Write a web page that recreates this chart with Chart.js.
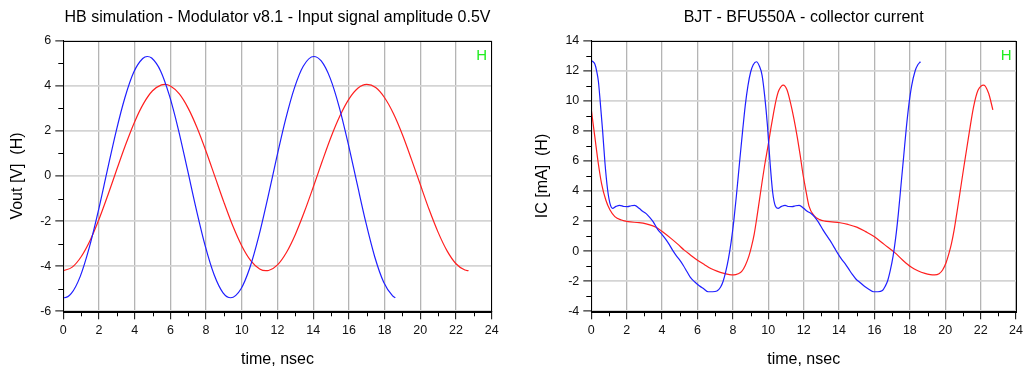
<!DOCTYPE html>
<html><head><meta charset="utf-8">
<script src="https://cdn.jsdelivr.net/npm/chart.js@4.4.1/dist/chart.umd.min.js"></script>
<style>
html,body{margin:0;padding:0;background:#fff;}
#wrap{position:relative;width:1027px;height:370px;overflow:hidden;}
#c1{position:absolute;left:0;top:0;}
#c2{position:absolute;left:513px;top:0;}
</style></head><body>
<div id="wrap"><canvas id="c1" width="513" height="370"></canvas><canvas id="c2" width="514" height="370"></canvas></div>
<script>
// ---- Left chart: Vout ----
const leftTitle = 'HB simulation - Modulator v8.1 - Input signal amplitude 0.5V';
const leftYTitle = 'Vout [V]  (H)';
const leftBlueT = [0,0.05,0.45,0.95,1.45,1.95,2.45,2.95,3.45,3.95,4.45,4.7,4.95,5.45,5.95,6.45,6.95,7.45,7.95,8.45,8.95,9.38,9.95,10.45,10.95,11.45,11.95,12.45,12.95,13.45,14.03,14.45,14.95,15.45,15.95,16.45,16.95,17.45,17.95,18.45,18.6];
const leftBlueV = [-5.39,-5.40,-5.21,-4.45,-3.19,-1.59,0.19,1.95,3.47,4.61,5.21,5.30,5.23,4.66,3.55,2.05,0.30,-1.48,-3.10,-4.38,-5.18,-5.40,-5.01,-4.07,-2.68,-0.99,0.80,2.50,3.91,4.88,5.30,5.10,4.34,3.08,1.47,-0.31,-2.06,-3.59,-4.71,-5.32,-5.40];
const leftRedT = [0,0.5,1,1.5,2,2.5,3,3.5,4,4.5,5,5.5,5.68,6,6.5,7,7.5,8,8.5,9,9.5,10,10.5,11,11.35,11.5,12,12.5,13,13.5,14,14.5,15,15.5,16,16.5,17,17.5,18,18.5,19,19.5,20,20.5,21,21.5,22,22.5,22.7];
const leftRedV = [-4.20,-4.04,-3.58,-2.86,-1.92,-0.84,0.30,1.41,2.41,3.22,3.78,4.04,4.06,3.99,3.64,3.00,2.13,1.09,-0.04,-1.17,-2.22,-3.10,-3.75,-4.12,-4.20,-4.19,-3.94,-3.39,-2.59,-1.60,-0.50,0.64,1.73,2.67,3.41,3.89,4.06,3.92,3.47,2.76,1.83,0.75,-0.38,-1.50,-2.50,-3.32,-3.89,-4.17,-4.20];
const leftYMin = -6, leftYMax = 6;
const leftYMinor = [-5,-3,-1,1,3,5];

// ---- Right chart: IC ----
const rightTitle = 'BJT - BFU550A - collector current';
const rightYTitle = 'IC [mA]  (H)';
const rightBlueT = [0,0.1,0.2,0.3,0.4,0.5,0.64,0.77,0.92,1.05,1.2,1.4,1.6,1.85,2.05,2.25,2.45,2.7,2.9,3.1,3.3,3.5,3.75,4.0,4.2,4.4,4.6,4.8,5.0,5.2,5.4,5.6,5.85,6.1,6.35,6.6,6.85,7.1,7.3,7.45,7.6,7.75,7.9,8.05,8.2,8.4,8.55,8.7,8.85,9.0,9.15,9.33,9.5,9.65,9.8,9.95,10.1,10.25,10.4,10.55,10.75,10.95,11.15,11.35,11.55,11.75,12.0,12.2,12.4,12.6,12.85,13.1,13.35,13.55,13.75,13.95,14.15,14.35,14.55,14.75,14.95,15.2,15.45,15.7,15.95,16.2,16.45,16.6,16.75,16.9,17.05,17.2,17.35,17.5,17.65,17.8,17.95,18.1,18.3,18.45,18.6];
const rightBlueV = [12.65,12.6,12.45,12.0,11.3,10.0,8.0,5.9,4.1,3.2,2.85,2.98,3.05,2.97,2.96,3.02,3.05,2.85,2.65,2.5,2.25,1.95,1.45,1.1,0.8,0.45,0.05,-0.3,-0.6,-0.95,-1.35,-1.75,-2.05,-2.3,-2.5,-2.7,-2.7,-2.65,-2.4,-2.0,-1.35,-0.5,0.6,2.0,3.7,6.2,8.0,9.7,11.0,11.9,12.4,12.6,12.3,11.7,10.3,8.4,5.9,3.9,3.0,2.85,2.98,3.05,2.97,2.96,3.02,3.05,2.85,2.65,2.52,2.3,1.9,1.4,0.95,0.6,0.2,-0.2,-0.55,-0.85,-1.2,-1.55,-1.85,-2.1,-2.35,-2.55,-2.7,-2.7,-2.62,-2.35,-1.95,-1.25,-0.35,0.9,2.5,4.4,6.3,8.2,9.8,11.0,12.0,12.4,12.6];
const rightRedT = [0,0.2,0.4,0.58,0.82,1.05,1.33,1.7,2.08,2.7,3.1,3.48,3.75,4.1,4.5,4.9,5.25,5.6,6.0,6.4,6.75,7.1,7.5,7.8,8.05,8.3,8.5,8.7,8.9,9.05,9.2,9.35,9.5,9.65,9.8,10.0,10.15,10.3,10.45,10.6,10.85,11.05,11.25,11.45,11.65,11.8,11.95,12.1,12.3,12.6,12.9,13.2,13.6,14.05,14.5,15.0,15.5,16.0,16.55,17.15,17.6,18.05,18.45,18.85,19.15,19.4,19.65,19.85,20.05,20.22,20.35,20.5,20.65,20.8,21.05,21.35,21.6,21.85,22.18,22.45,22.69];
const rightRedV = [9.4,7.6,5.8,4.5,3.4,2.75,2.3,2.07,1.96,1.9,1.82,1.68,1.52,1.22,0.85,0.45,0.07,-0.25,-0.6,-0.9,-1.15,-1.33,-1.48,-1.56,-1.58,-1.5,-1.35,-0.95,-0.35,0.3,1.1,2.2,3.4,4.6,5.75,7.1,8.2,9.2,10.1,10.7,11.05,10.75,9.9,8.8,7.5,6.4,5.2,4.2,3.0,2.35,2.1,2.0,1.95,1.89,1.78,1.6,1.3,0.96,0.45,-0.1,-0.6,-1.04,-1.3,-1.48,-1.56,-1.58,-1.5,-1.25,-0.75,-0.1,0.5,1.4,2.5,3.65,5.6,7.85,9.6,10.7,11.05,10.5,9.4];
const rightYMin = -4, rightYMax = 14;
const rightYMinor = [-3,-1,1,3,5,7,9,11,13];

// ---- shared x axis ----
const xTitle = 'time, nsec';
const xMin = 0, xMax = 24;
const xMinor = [1,3,5,7,9,11,13,15,17,19,21,23];
const markerText = 'H';

const FONT = '"Liberation Sans", Arial, Helvetica, sans-serif';
Chart.defaults.font.family = FONT;

function pts(ts, vs){ return ts.map((t,i)=>({x:t,y:vs[i]})); }

const framePlugin = {
  id: 'frame',
  afterDraw(chart, args, opts){
    const {ctx, chartArea:a, scales:{x,y}} = chart;
    ctx.save();
    ctx.strokeStyle = '#000'; ctx.lineWidth = 1;
    ctx.strokeRect(Math.round(a.left)+0.5, Math.round(a.top)+0.5, Math.round(a.right-a.left), Math.round(a.bottom-a.top));
    ctx.beginPath();
    for (const v of opts.xMinor){ const px = Math.round(x.getPixelForValue(v))+0.5; ctx.moveTo(px, a.bottom); ctx.lineTo(px, a.bottom+5); }
    for (const v of opts.yMinor){ const py = Math.round(y.getPixelForValue(v))+0.5; ctx.moveTo(a.left-5, py); ctx.lineTo(a.left, py); }
    ctx.stroke();
    ctx.fillStyle = '#000'; ctx.font = '16px ' + FONT; ctx.textAlign = 'center'; ctx.textBaseline = 'middle';
    ctx.fillText(opts.title, (a.left+a.right)/2, 17.5);
    ctx.fillStyle = '#22ee22'; ctx.font = '15px ' + FONT;
    ctx.fillText(opts.marker, a.right-10, a.top+15);
    ctx.restore();
  }
};

function makeChart(id, cfg){
  return new Chart(document.getElementById(id), {
    type: 'line',
    data: { datasets: [
      { data: pts(cfg.bt, cfg.bv), borderColor: '#1f1fff', borderWidth: 1.2, pointRadius: 0, cubicInterpolationMode: 'monotone', fill: false },
      { data: pts(cfg.rt, cfg.rv), borderColor: '#ff1f1f', borderWidth: 1.2, pointRadius: 0, cubicInterpolationMode: 'monotone', fill: false }
    ]},
    options: {
      responsive: false, animation: false, devicePixelRatio: 1,
      layout: { padding: { top: 40.7, right: cfg.padRight, left: 0, bottom: 0 } },
      plugins: { legend: {display:false}, tooltip: {enabled:false}, title: {display:false},
        frame: { title: cfg.title, marker: markerText, xMinor: xMinor, yMinor: cfg.yMinor } },
      scales: {
        x: { type: 'linear', min: xMin, max: xMax,
          ticks: { stepSize: 2, color: '#111', font: {size: 12.5}, padding: 4, maxRotation: 0, autoSkip: false },
          grid: { color: '#b4b4b4', lineWidth: 1.3, tickLength: 8, tickColor: '#000', tickWidth: 1 },
          border: { color: '#000', width: 1 },
          title: { display: true, text: xTitle, color: '#000', font: {size: 16}, padding: {top: 0, bottom: 0.4} },
          afterFit(s){ s.height = 58.7; } },
        y: { type: 'linear', min: cfg.ymin, max: cfg.ymax,
          ticks: { stepSize: 2, color: '#111', font: {size: 12.5}, padding: 4 },
          grid: { color: '#d4d4d4', lineWidth: 1.8, tickLength: 8, tickColor: '#000', tickWidth: 1 },
          border: { color: '#000', width: 1 },
          title: { display: true, text: cfg.ytitle, color: '#000', font: {size: 16}, padding: {top: cfg.ytpad, bottom: 0} },
          afterFit(s){ s.width = cfg.ywidth; } }
      }
    },
    plugins: [framePlugin]
  });
}

makeChart('c1', { bt: leftBlueT, bv: leftBlueV, rt: leftRedT, rv: leftRedV, title: leftTitle, ytitle: leftYTitle,
  ymin: leftYMin, ymax: leftYMax, yMinor: leftYMinor, padRight: 21.3, ywidth: 63.3, ytpad: 7.9 });
makeChart('c2', { bt: rightBlueT, bv: rightBlueV, rt: rightRedT, rv: rightRedV, title: rightTitle, ytitle: rightYTitle,
  ymin: rightYMin, ymax: rightYMax, yMinor: rightYMinor, padRight: 8, ywidth: 78.3, ytpad: 19.6 });
</script>
</body></html>
